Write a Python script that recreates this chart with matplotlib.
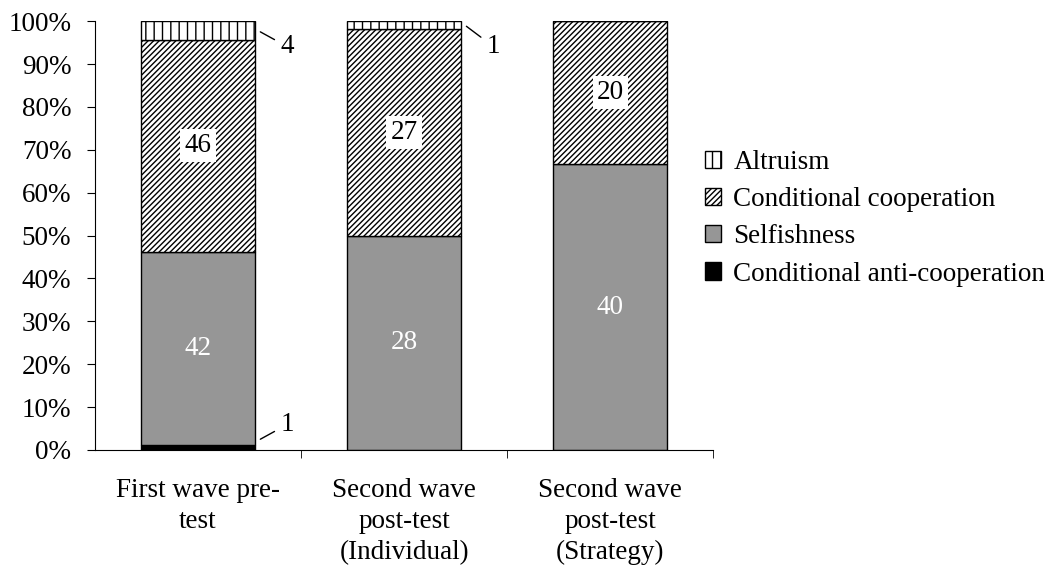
import numpy as np
import matplotlib.pyplot as plt
import matplotlib.ticker as mtick

plt.rcParams['font.family'] = ['Liberation Serif', 'DejaVu Serif']
plt.rcParams['hatch.linewidth'] = 1.0

# Data (counts of participants per type)
groups = ["First wave pre-\ntest", "Second wave\npost-test\n(Individual)", "Second wave\npost-test\n(Strategy)"]
anti_coop = [1, 0, 0]
selfish = [42, 28, 40]
cond_coop = [46, 27, 20]
altruism = [4, 1, 0]

series = [
    ("Conditional anti-cooperation", anti_coop, "black", None),
    ("Selfishness", selfish, "#969696", None),
    ("Conditional cooperation", cond_coop, "white", "//////"),
    ("Altruism", altruism, "white", "||"),
]

totals = np.array(anti_coop) + np.array(selfish) + np.array(cond_coop) + np.array(altruism)
FS = 19.5

fig = plt.figure(figsize=(10.55, 5.71), dpi=100)
ax = fig.add_axes([0.090, 0.212, 0.586, 0.751])

x = np.arange(len(groups))
width = 0.555
bottom = np.zeros(len(groups))
handles = {}
for name, vals, color, hatch in series:
    pct = np.array(vals) / totals * 100
    bars = ax.bar(x, pct, width, bottom=bottom, color=color, hatch=hatch,
                  edgecolor="black", linewidth=1.0, label=name)
    handles[name] = bars
    # value labels inside larger segments
    for i, v in enumerate(vals):
        if v >= 10:
            yc = bottom[i] + pct[i] / 2
            if name == "Selfishness":
                ax.text(x[i], yc, str(v), ha="center", va="center", fontsize=FS, color="white")
            else:
                ax.text(x[i], yc, str(v), ha="center", va="center", fontsize=FS, color="black",
                        bbox=dict(facecolor="white", edgecolor="none", pad=3))
    bottom = bottom + pct

# small segments with leader lines
def leader(xi, y_from, y_to, text):
    x0 = xi + width / 2 + 0.025
    ax.annotate(text, xy=(x0, y_from), xytext=(x0 + 0.10, y_to),
                fontsize=FS, va="center", ha="left",
                arrowprops=dict(arrowstyle="-", color="black", lw=1.0, shrinkA=3, shrinkB=0))

leader(x[0], 97.5, 94.0, "4")
leader(x[1], 98.8, 94.0, "1")
leader(x[0], 2.5, 6.0, "1")

ax.set_ylim(0, 100)
ax.set_xlim(-0.5, 2.5)
ax.set_yticks(np.arange(0, 101, 10))
ax.yaxis.set_major_formatter(mtick.PercentFormatter(decimals=0))
ax.set_xticks(x)
ax.set_xticklabels(groups, linespacing=1.33)
ax.set_xticks([0.5, 1.5, 2.5], minor=True)
ax.tick_params(axis="x", which="major", length=0, pad=20, labelsize=FS)
ax.tick_params(axis="x", which="minor", length=6, direction="out")
ax.tick_params(axis="y", labelsize=FS, length=6, direction="out", pad=11)
ax.spines["top"].set_visible(False)
ax.spines["right"].set_visible(False)

order = ["Altruism", "Conditional cooperation", "Selfishness", "Conditional anti-cooperation"]
fig.legend([handles[n] for n in order], order, loc="upper left",
           bbox_to_anchor=(705 / 1055, 1 - 150 / 571), bbox_transform=fig.transFigure,
           frameon=False, fontsize=FS, handlelength=0.6, handleheight=0.6,
           handletextpad=0.45, labelspacing=0.45, borderpad=0, borderaxespad=0)

fig.savefig("out.png", dpi=100)
